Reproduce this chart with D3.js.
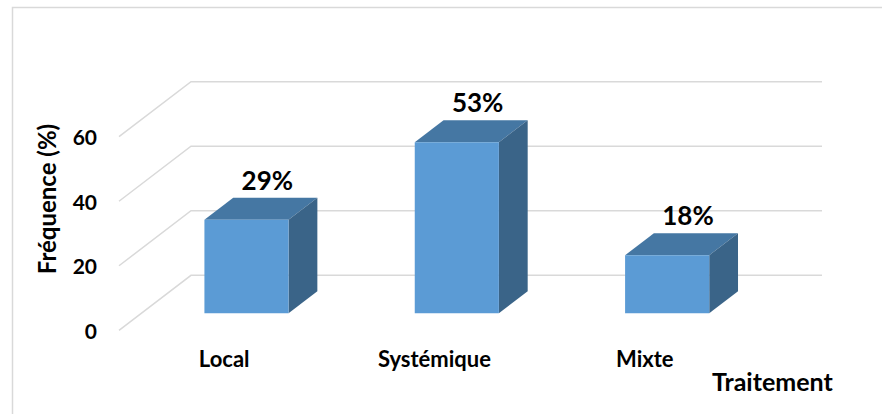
<!DOCTYPE html>
<html>
<head>
<meta charset="utf-8">
<script src="https://cdn.jsdelivr.net/npm/d3@7/dist/d3.min.js"></script>
<style>
  html, body { margin: 0; padding: 0; background: #fff; }
  svg { display: block; }
  text { font-family: Lato, "Open Sans", sans-serif; font-weight: bold; fill: #000; }
</style>
</head>
<body>
<svg id="chart" width="882" height="414"></svg>
<script>
// ---- data ----
const categories = ["Local", "Systémique", "Mixte"];
const values = [29, 53, 18];
const valueLabels = ["29%", "53%", "18%"];
const yTicks = [0, 20, 40, 60];
const yTitle = "Fréquence (%)";
const xTitle = "Traitement";

// ---- layout ----
const W = 882, H = 414;
const svg = d3.select("#chart");
const depthX = 72, depthY = 55;     // full floor depth (back -> front)
const barFrontT = 0.69;             // depth fraction of bar front face
const barDepthT = 0.40;             // depth of the bar
const barWidthFrac = 0.40;

const x = d3.scaleBand().domain(categories).range([191, 822]);
const y = d3.scaleLinear().domain([0, 60]).range([275.3, 81.7]);

// projection: back-plane coords (xb, value) at depth t (0 = back wall, 1 = front)
const P = (xb, v, t) => [xb - depthX * t, y(v) + depthY * t];

// chart border (top & left visible)
svg.append("path")
  .attr("d", `M12.5,${H} L12.5,7.5 L${W},7.5`)
  .attr("fill", "none").attr("stroke", "#d9d9d9").attr("stroke-width", 1.5);

// gridlines: back wall + side wall diagonal
const grid = svg.append("g").attr("fill", "none").attr("stroke", "#d9d9d9").attr("stroke-width", 1.5);
yTicks.forEach(v => {
  const a = P(x.range()[0], v, 1), b = P(x.range()[0], v, 0), c = P(x.range()[1], v, 0);
  grid.append("path").attr("d", `M${a[0]},${a[1]} L${b[0]},${b[1]} L${c[0]},${c[1]}`);
});

// tick labels
svg.append("g").selectAll("text").data(yTicks).join("text")
  .attr("x", 97)
  .attr("y", d => P(x.range()[0], d, 1)[1] + 1)
  .attr("dy", "0.36em")
  .attr("text-anchor", "end")
  .attr("font-size", 21)
  .text(d => d);

// bars
const bw = x.bandwidth() * barWidthFrac;
const colors = { front: "#5b9bd5", top: "#4577a3", side: "#3a6488" };
const bars = svg.append("g");
categories.forEach((c, i) => {
  const v = values[i];
  const cx = x(c) + x.bandwidth() / 2;
  const x0 = cx - bw / 2, x1 = cx + bw / 2;
  const tf = barFrontT, tb = barFrontT - barDepthT;
  const pts = (arr) => arr.map(p => p.join(",")).join(" ");
  // top face
  bars.append("polygon").attr("fill", colors.top)
    .attr("points", pts([P(x0, v, tf), P(x1, v, tf), P(x1, v, tb), P(x0, v, tb)]));
  // side face
  bars.append("polygon").attr("fill", colors.side)
    .attr("points", pts([P(x1, v, tf), P(x1, v, tb), P(x1, 0, tb), P(x1, 0, tf)]));
  // front face
  bars.append("polygon").attr("fill", colors.front)
    .attr("points", pts([P(x0, v, tf), P(x1, v, tf), P(x1, 0, tf), P(x0, 0, tf)]));
  // value label
  const lt = P(cx, v, tb);
  bars.append("text")
    .attr("x", lt[0] - 8).attr("y", lt[1] - 8)
    .attr("text-anchor", "middle").attr("font-size", 26)
    .text(valueLabels[i]);
  // category label (projected on the floor front edge)
  const lc = P(cx, 0, 1);
  bars.append("text")
    .attr("x", lc[0]).attr("y", 367)
    .attr("text-anchor", "middle").attr("font-size", 22)
    .text(c);
});

// axis titles
svg.append("text")
  .attr("transform", "translate(56,199) rotate(-90)")
  .attr("text-anchor", "middle").attr("font-size", 24)
  .text(yTitle);
svg.append("text")
  .attr("x", 712).attr("y", 391)
  .attr("font-size", 25)
  .text(xTitle);
</script>
</body>
</html>
